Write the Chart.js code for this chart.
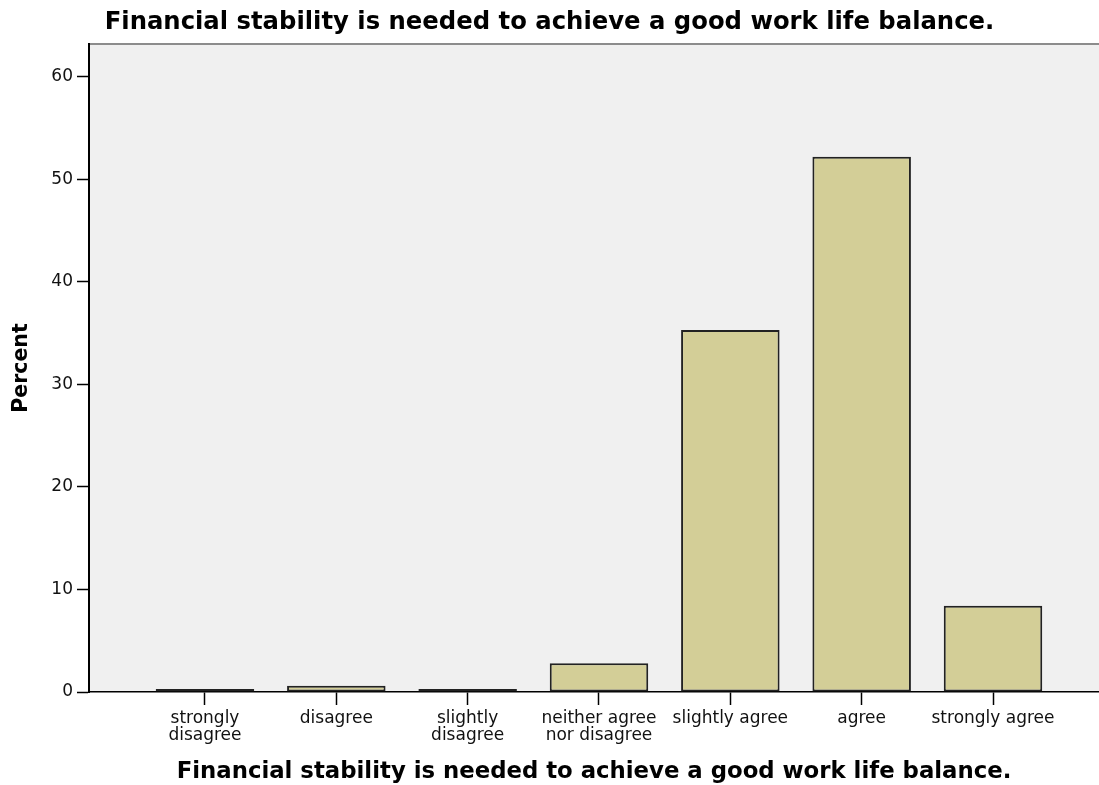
<!DOCTYPE html>
<html>
<head>
<meta charset="utf-8">
<script src="https://cdn.jsdelivr.net/npm/chart.js@4"></script>
<style>
  html, body { margin: 0; padding: 0; background: #fff; }
  #wrap { width: 1099px; height: 785px; }
</style>
</head>
<body>
<div id="wrap"><canvas id="chart" width="1099" height="785"></canvas></div>
<script>
const TITLE = "Financial stability is needed to achieve a good work life balance.";
const categories = [
  ["strongly", "disagree"],
  "disagree",
  ["slightly", "disagree"],
  ["neither agree", "nor disagree"],
  "slightly agree",
  "agree",
  "strongly agree"
];
const percentValues = [0.3, 0.6, 0.3, 2.8, 35.3, 52.2, 8.4];
const yTicks = [0, 10, 20, 30, 40, 50, 60];

// grey plot panel with the darker top edge
const plotBackground = {
  id: "plotBackground",
  beforeDraw(chart) {
    const { ctx, chartArea: a } = chart;
    ctx.save();
    ctx.fillStyle = "#f0f0f0";
    ctx.fillRect(a.left, a.top, a.right - a.left, a.bottom - a.top);
    ctx.strokeStyle = "#8c8c8c";
    ctx.lineWidth = 2;
    ctx.beginPath();
    ctx.moveTo(a.left, a.top);
    ctx.lineTo(a.right, a.top);
    ctx.stroke();
    ctx.restore();
  }
};

new Chart(document.getElementById("chart"), {
  type: "bar",
  data: {
    datasets: [{
      data: percentValues.map((v, i) => ({ x: i, y: v })),
      backgroundColor: "#d3ce97",
      borderColor: "#222",
      borderWidth: 2,
      borderSkipped: false,
      categoryPercentage: 1,
      barPercentage: 0.75
    }]
  },
  options: {
    responsive: false,
    animation: false,
    events: [],
    layout: { padding: 0 },
    plugins: {
      legend: { display: false },
      tooltip: { enabled: false },
      title: {
        display: true,
        text: TITLE,
        color: "#000",
        font: { family: "DejaVu Sans", weight: "bold", size: 24.3 },
        padding: { top: 8, bottom: 6.8 }
      }
    },
    scales: {
      x: {
        type: "linear",
        offset: false,
        min: -0.883,
        max: 6.807,
        afterBuildTicks: (scale) => { scale.ticks = categories.map((c, i) => ({ value: i })); },
        afterFit: (scale) => { scale.height = 93; },
        grid: { offset: false, drawOnChartArea: false, color: "#000", tickLength: 13, tickWidth: 1.5 },
        border: { color: "#000", width: 1.5 },
        ticks: {
          autoSkip: false,
          maxRotation: 0,
          color: "#111",
          padding: 6,
          font: { family: "DejaVu Sans", size: 17, lineHeight: 0.95 },
          callback: (value) => categories[value]
        },
        title: {
          display: true,
          text: TITLE,
          color: "#000",
          font: { family: "DejaVu Sans", weight: "bold", size: 22.8 },
          padding: { top: 0, bottom: -1 }
        }
      },
      y: {
        min: 0,
        max: 63.2,
        afterBuildTicks: (scale) => { scale.ticks = yTicks.map(v => ({ value: v })); },
        afterFit: (scale) => { scale.width = 89; },
        grid: { drawOnChartArea: false, color: "#000", tickLength: 12, tickWidth: 1.5 },
        border: { color: "#000", width: 2 },
        ticks: {
          color: "#111",
          padding: 4,
          font: { family: "DejaVu Sans", size: 17 }
        },
        title: {
          display: true,
          text: "Percent",
          color: "#000",
          font: { family: "DejaVu Sans", weight: "bold", size: 20.5 },
          padding: { top: 9, bottom: 0 }
        }
      }
    }
  },
  plugins: [plotBackground]
});
</script>
</body>
</html>
